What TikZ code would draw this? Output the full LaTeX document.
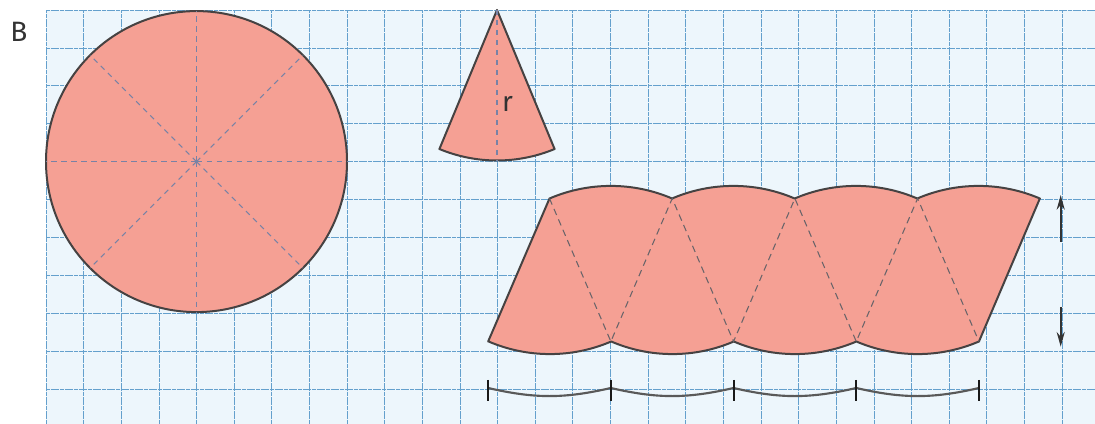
\documentclass[tikz,border=0pt]{standalone}
\usepackage{fontspec}
\setmainfont{Fira Sans}
\usetikzlibrary{arrows.meta}
\definecolor{gridbg}{RGB}{237,246,252}
\definecolor{gridln}{RGB}{100,160,205}
\definecolor{salmon}{RGB}{245,160,148}
\definecolor{outl}{RGB}{70,66,66}
\definecolor{raddash}{RGB}{120,130,165}
\definecolor{netdash}{RGB}{105,100,105}
\begin{document}
\begin{tikzpicture}[x=0.75pt,y=0.75pt,
  gridline/.style={draw=gridln,line width=0.55pt,dash pattern=on 3pt off 0.5pt},
  netshape/.style={fill=salmon,draw=outl,line width=1.5pt,line join=round},
  radline/.style={draw=raddash,line width=0.8pt,dash pattern=on 4pt off 3.5pt},
  innerline/.style={draw=netdash,line width=0.8pt,dash pattern=on 5pt off 3.5pt},
  dimline/.style={draw=black!80,line width=1.5pt,-{Stealth[length=11pt,width=6pt]}},
  scaleline/.style={draw=black!65,line width=1.6pt},
  tickline/.style={draw=black!90,line width=1.5pt},
  lbl/.style={text=black!80,font=\fontsize{21}{24}\selectfont,inner sep=0pt}]
\useasboundingbox (0,0) rectangle (1095,424);
\fill[white] (0,0) rectangle (1095,424);
\fill[gridbg] (46,0) rectangle (1095,414);
\foreach \i in {0,...,27} \draw[gridline] ({46+37.63*\i},0) -- ({46+37.63*\i},414);
\foreach \j in {0,...,10} \draw[gridline] (46,{414-37.9*\j}) -- (1095,{414-37.9*\j});
% label B
\node[lbl] (lblB) at (19,392) {B};
% circle
\coordinate (O) at (196.5,262.4);
\draw[netshape] (O) circle[radius=150.5];
\foreach \a in {0,45,...,315} \draw[radline] (O) -- ++(\a:150.5);
% sector
\coordinate (S) at (497,414);
\draw[netshape] (S) -- ++(247.5:150.5) arc[start angle=247.5,end angle=292.5,radius=150.5] -- cycle;
\draw[radline] (S) -- ++(270:150.5);
\node[lbl] (lblr) at (507.5,320) {r};
% rearranged sectors
\foreach \k in {0,...,4} {
  \coordinate (T\k) at ({549.5+122.7*\k},225.5);
  \coordinate (B\k) at ({488.15+122.7*\k},82.5);
}
\draw[netshape] (B0) -- (T0)
  arc[start angle=113.2,end angle=66.8,radius=155.6]
  arc[start angle=113.2,end angle=66.8,radius=155.6]
  arc[start angle=113.2,end angle=66.8,radius=155.6]
  arc[start angle=113.2,end angle=66.8,radius=155.6]
  -- (B4)
  arc[start angle=293.2,end angle=246.8,radius=155.6]
  arc[start angle=293.2,end angle=246.8,radius=155.6]
  arc[start angle=293.2,end angle=246.8,radius=155.6]
  arc[start angle=293.2,end angle=246.8,radius=155.6]
  -- cycle;
\draw[innerline] (T0) -- (B1) -- (T1) -- (B2) -- (T2) -- (B3) -- (T3) -- (B4);
% height arrows
\coordinate (h1) at (1060.7,229);
\coordinate (h2) at (1060.7,182);
\coordinate (h3) at (1060.7,117);
\coordinate (h4) at (1060.7,77.3);
\draw[dimline] (h2) -- (h1);
\draw[dimline] (h3) -- (h4);
% bottom scale
\foreach \k in {0,...,4} {
  \coordinate (L\k) at ({488.15+122.7*\k},36);
  \coordinate (La\k) at ({488.15+122.7*\k},44);
  \coordinate (Lb\k) at ({488.15+122.7*\k},23);
}
\draw[scaleline] (L0) to[bend right=13] (L1) to[bend right=13] (L2) to[bend right=13] (L3) to[bend right=13] (L4);
\foreach \k in {0,...,4} \draw[tickline] (La\k) -- (Lb\k);
\end{tikzpicture}
\end{document}
